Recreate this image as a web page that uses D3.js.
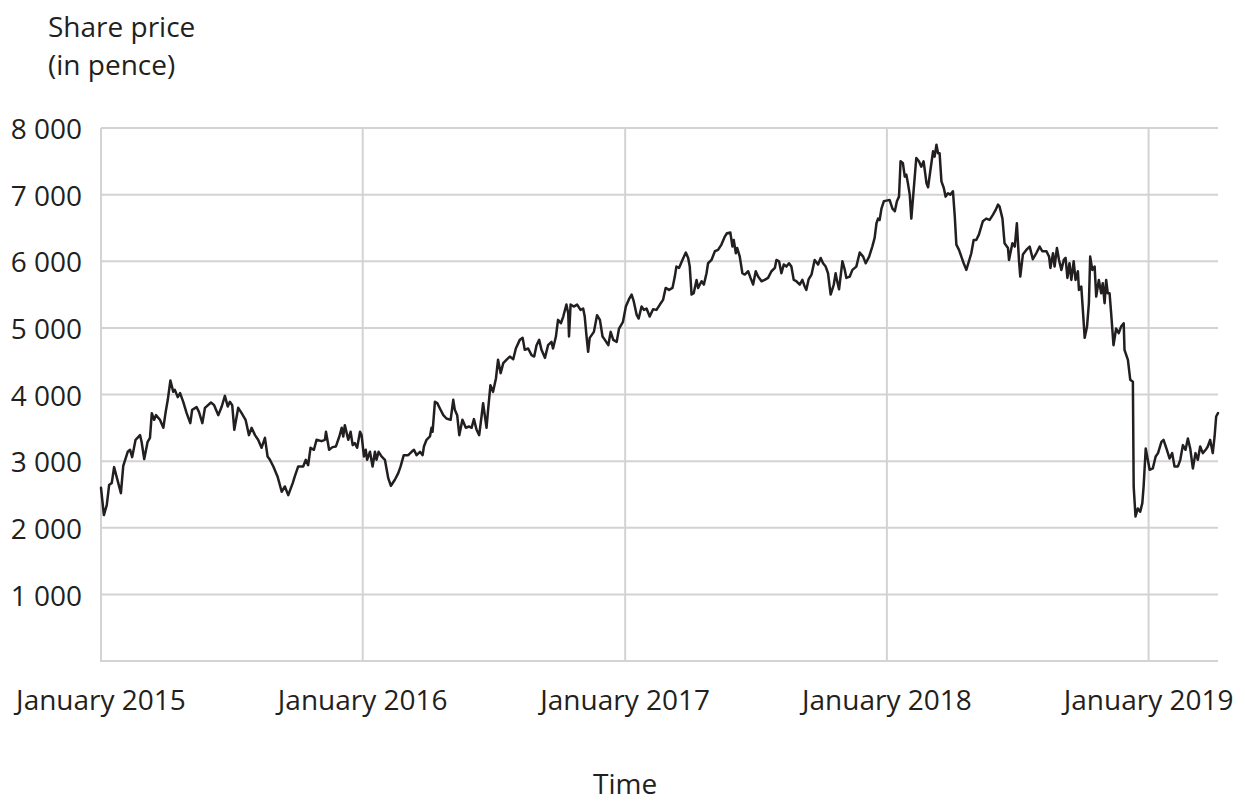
<!DOCTYPE html>
<html>
<head>
<meta charset="utf-8">
<script src="https://cdn.jsdelivr.net/npm/d3@7"></script>
<style>
html,body{margin:0;padding:0;background:#fff;}
svg{display:block;}
text{font-family:"Open Sans","Noto Sans",sans-serif;fill:#231f20;}
</style>
</head>
<body>
<svg id="chart" width="1245" height="804"></svg>
<script>
// ---- data ----
// time offsets in years since 1 January 2015
const yearsSinceJan2015 = [
0.000,0.011,0.022,0.031,0.041,0.050,0.060,0.076,0.085,0.102,0.111,0.119,0.132,0.149,0.155,0.165,0.178,0.187,0.194,0.203,
0.210,0.225,0.238,0.247,0.255,0.265,0.276,0.282,0.293,0.302,0.314,0.327,0.341,0.348,0.365,0.374,0.387,0.397,0.420,0.432,
0.448,0.461,0.473,0.484,0.492,0.501,0.509,0.524,0.537,0.552,0.565,0.575,0.588,0.600,0.613,0.626,0.636,0.645,0.658,0.674,
0.690,0.702,0.715,0.732,0.740,0.753,0.772,0.782,0.791,0.800,0.813,0.823,0.842,0.855,0.859,0.871,0.884,0.897,0.910,0.919,
0.925,0.931,0.944,0.953,0.961,0.969,0.978,0.989,0.995,1.004,1.011,1.016,1.027,1.037,1.046,1.052,1.060,1.071,1.084,1.097,
1.107,1.122,1.135,1.144,1.156,1.173,1.186,1.195,1.205,1.218,1.228,1.233,1.243,1.256,1.262,1.266,1.275,1.284,1.294,1.307,
1.319,1.335,1.345,1.351,1.360,1.368,1.380,1.393,1.405,1.415,1.424,1.434,1.444,1.453,1.459,1.472,1.478,1.487,1.497,1.508,
1.516,1.526,1.536,1.548,1.561,1.574,1.584,1.599,1.610,1.618,1.631,1.644,1.654,1.663,1.673,1.682,1.695,1.707,1.720,1.726,
1.737,1.745,1.756,1.765,1.777,1.784,1.787,1.793,1.805,1.818,1.831,1.841,1.847,1.854,1.860,1.866,1.882,1.894,1.905,1.915,
1.924,1.937,1.946,1.956,1.969,1.978,1.987,1.993,2.004,2.016,2.026,2.034,2.045,2.053,2.064,2.073,2.083,2.095,2.108,2.121,
2.134,2.146,2.156,2.169,2.182,2.191,2.197,2.207,2.220,2.233,2.242,2.248,2.255,2.263,2.274,2.280,2.293,2.302,2.312,2.318,
2.331,2.344,2.356,2.369,2.382,2.390,2.403,2.411,2.416,2.424,2.429,2.439,2.449,2.458,2.471,2.480,2.490,2.500,2.509,2.522,
2.534,2.547,2.560,2.573,2.579,2.589,2.598,2.607,2.617,2.627,2.636,2.645,2.655,2.668,2.678,2.687,2.693,2.702,2.713,2.725,
2.738,2.748,2.757,2.767,2.776,2.786,2.798,2.805,2.808,2.818,2.831,2.840,2.846,2.859,2.869,2.884,2.897,2.910,2.920,2.933,
2.945,2.954,2.961,2.967,2.973,2.980,2.989,2.999,3.011,3.022,3.031,3.039,3.047,3.053,3.062,3.069,3.075,3.081,3.088,3.094,
3.103,3.113,3.123,3.132,3.141,3.152,3.158,3.167,3.177,3.183,3.190,3.196,3.202,3.209,3.218,3.225,3.234,3.243,3.253,3.260,
3.266,3.276,3.285,3.294,3.304,3.314,3.323,3.332,3.342,3.352,3.361,3.367,3.380,3.393,3.406,3.416,3.425,3.431,3.442,3.450,
3.463,3.467,3.480,3.489,3.497,3.505,3.510,3.520,3.533,3.546,3.558,3.571,3.584,3.594,3.610,3.620,3.625,3.635,3.641,3.650,
3.658,3.667,3.676,3.683,3.690,3.698,3.705,3.714,3.721,3.730,3.734,3.743,3.749,3.756,3.765,3.772,3.777,3.785,3.794,3.800,
3.810,3.819,3.825,3.832,3.838,3.844,3.851,3.857,3.866,3.876,3.886,3.895,3.905,3.908,3.921,3.930,3.940,3.943,3.950,3.959,
3.968,3.976,3.981,3.989,3.997,4.004,4.016,4.027,4.036,4.049,4.057,4.068,4.080,4.090,4.099,4.112,4.121,4.131,4.141,4.150,
4.159,4.169,4.179,4.188,4.197,4.207,4.218,4.226,4.235,4.245,4.252,4.258,4.265
];
// share price in pence
const sharePrice = [
2600,2190,2340,2640,2670,2910,2760,2520,2930,3140,3170,3060,3320,3390,3290,3030,3290,3350,3720,3620,
3690,3620,3500,3740,3920,4210,4040,4070,3960,4020,3890,3720,3570,3770,3810,3740,3570,3800,3880,3840,
3690,3820,3980,3820,3890,3840,3470,3800,3720,3620,3390,3500,3390,3320,3200,3350,3070,3020,2920,2770,
2540,2620,2490,2670,2770,2920,2920,3020,2940,3200,3170,3320,3300,3320,3440,3170,3210,3220,3370,3500,
3370,3540,3320,3440,3240,3270,3200,3440,3390,3070,3170,3020,3140,2920,3140,3020,3140,3070,3020,2740,
2630,2720,2820,2920,3090,3090,3140,3170,3090,3140,3090,3220,3320,3370,3500,3440,3890,3870,3790,3690,
3640,3620,3920,3770,3690,3390,3620,3500,3520,3500,3630,3470,3390,3670,3870,3500,3770,4140,4040,4240,
4520,4320,4470,4520,4570,4530,4690,4820,4850,4670,4690,4590,4570,4740,4820,4670,4550,4740,4790,4690,
4870,5120,5070,5170,5350,5220,4870,5350,5320,5350,5270,5290,5170,4870,4640,4850,4940,5190,5120,4870,
4820,4740,4940,4820,4790,4990,5050,5090,5320,5430,5500,5400,5200,5140,5320,5270,5290,5170,5280,5270,
5350,5420,5600,5570,5600,5770,5920,5900,6020,6130,6050,5920,5500,5520,5720,5600,5700,5650,5820,5970,
6020,6150,6170,6250,6370,6420,6430,6220,6320,6120,6200,6070,5820,5800,5850,5750,5650,5850,5770,5700,
5720,5750,5850,5900,6020,6000,5820,5950,5920,5970,5920,5720,5700,5650,5720,5620,5570,5730,5800,6020,
5950,6050,5970,5920,5820,5500,5650,5820,5750,5580,6000,5870,5750,5770,5870,5920,6130,6070,5970,6070,
6220,6350,6570,6640,6620,6790,6900,6910,6920,6790,6750,6900,6970,7500,7470,7270,7300,7170,7000,6640,
7070,7550,7500,7420,7500,7170,7110,7370,7650,7570,7750,7620,7620,7200,7100,6970,7020,7000,7050,6670,
6250,6170,6070,5970,5870,6000,6120,6320,6320,6400,6520,6600,6640,6620,6700,6770,6850,6820,6640,6270,
6200,6020,6270,6220,6570,6020,5770,6100,6170,6220,6030,6120,6220,6150,6150,6070,5900,6120,5920,6200,
6020,5870,6020,6050,5750,5970,5720,6000,5720,5850,5570,5620,5270,4850,5020,5370,6070,5870,5920,5470,
5720,5520,5670,5370,5720,5520,5520,5220,4740,4990,4920,5020,5070,4670,4520,4220,4190,2620,2170,2290,
2240,2370,2620,3190,3020,2870,2890,3070,3120,3290,3320,3190,3040,3120,2920,2920,3020,3240,3170,3340,
3190,2890,3120,3020,3220,3120,3170,3220,3320,3120,3370,3670,3720
];
const yTickValues = [1000,2000,3000,4000,5000,6000,7000,8000];
const xTickYears = [2015,2016,2017,2018,2019];
const yTitleLines = ["Share price","(in pence)"];
const xTitle = "Time";

// ---- chart ----
const svg = d3.select("#chart");
const margin = {left:101, right:1245-1218, top:128, bottom:804-661};
const W = 1245, H = 804;
const ink = "#231f20", grid = "#d3d3d3";
const fs = 28;

const startMs = Date.UTC(2015,0,1);
const toDate = off => new Date(startMs + off*365.25*864e5);
const data = yearsSinceJan2015.map((t,i)=>({date:toDate(t), value:sharePrice[i]}));

const x = d3.scaleUtc()
  .domain([new Date(startMs), data[data.length-1].date])
  .range([margin.left, W - margin.right]);
const y = d3.scaleLinear().domain([0,8000]).range([H - margin.bottom, margin.top]);

const spaceFmt = v => d3.format(",d")(v).replace(/,/g, " ");

// horizontal gridlines
svg.append("g").selectAll("line").data(yTickValues).join("line")
  .attr("x1", x.range()[0]).attr("x2", x.range()[1])
  .attr("y1", d=>y(d)).attr("y2", d=>y(d))
  .attr("stroke", grid).attr("stroke-width", 2);

// vertical gridlines (January of each year after first)
const xTicks = xTickYears.map(yr=>new Date(Date.UTC(yr,0,1)));
svg.append("g").selectAll("line").data(xTicks.slice(1)).join("line")
  .attr("x1", d=>x(d)).attr("x2", d=>x(d))
  .attr("y1", y(8000)).attr("y2", y(0))
  .attr("stroke", grid).attr("stroke-width", 2);

// axis lines (left and bottom)
svg.append("line").attr("x1", x.range()[0]).attr("x2", x.range()[0])
  .attr("y1", y(8000)).attr("y2", y(0)+1).attr("stroke", grid).attr("stroke-width", 2);
svg.append("line").attr("x1", x.range()[0]-1).attr("x2", x.range()[1])
  .attr("y1", y(0)).attr("y2", y(0)).attr("stroke", grid).attr("stroke-width", 2);

// y tick labels
svg.append("g").selectAll("text").data(yTickValues).join("text")
  .attr("x", 82).attr("y", d=>y(d)).attr("dy","0.4em")
  .attr("text-anchor","end").attr("font-size", fs)
  .text(d=>spaceFmt(d));

// x tick labels
svg.append("g").selectAll("text").data(xTicks).join("text")
  .attr("x", d=>x(d)).attr("y", 710)
  .attr("text-anchor","middle").attr("font-size", fs)
  .text(d=>"January " + d.getUTCFullYear());

// titles
svg.append("g").selectAll("text").data(yTitleLines).join("text")
  .attr("x", 48).attr("y", (d,i)=>37 + i*38)
  .attr("font-size", fs).text(d=>d);
svg.append("text").attr("x", x(xTicks[2])).attr("y", 794)
  .attr("text-anchor","middle").attr("font-size", fs).text(xTitle);

// line
const line = d3.line().x(d=>x(d.date)).y(d=>y(d.value)).curve(d3.curveLinear);
svg.append("path").datum(data).attr("d", line)
  .attr("fill","none").attr("stroke", ink).attr("stroke-width", 2.5)
  .attr("stroke-linejoin","round").attr("stroke-linecap","round");
</script>
</body>
</html>
